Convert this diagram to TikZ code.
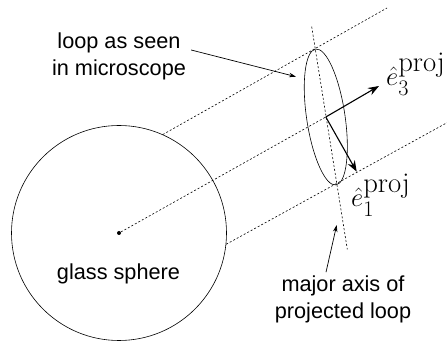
\documentclass[tikz,border=0pt]{standalone}
\usepackage{amsmath}
\usepackage{fontspec}
\setmainfont{Liberation Sans}
\usepackage{tikz}
\usetikzlibrary{shapes.geometric, arrows.meta}
\newfontfamily\mathlabelfont{Latin Modern Roman}
\newcommand{\projtext}{\mbox{\mathlabelfont\fontsize{26.8}{30}\selectfont proj}}

\tikzset{
  sightline/.style={dash pattern=on 2pt off 2pt, line width=0.6pt},
  basisarrow/.style={-{Stealth[length=11pt, width=8pt]}, line width=1.1pt},
  labelarrow/.style={-{Stealth[length=7pt, width=4.5pt]}, line width=0.7pt},
  sanslabel/.style={font=\fontsize{21.7}{27}\selectfont, align=center, inner sep=0pt},
  basislabel/.style={font=\Huge\mathlabelfont, scale=1.07, inner sep=0pt, anchor=base west}
}

\begin{document}
\begin{tikzpicture}[x=1pt, y=1pt]
\useasboundingbox (0,0) rectangle (447,345);

% Sphere and its centre
\node[draw, circle, line width=0.6pt, minimum size=215pt, inner sep=0pt] (sphere) at (119,112) {};
\node[fill, circle, minimum size=4pt, inner sep=0pt] (centre) at (119,112) {};
\node[sanslabel, anchor=base] (spherelabel) at (118.5,65) {glass sphere};

% Projected loop
\node[draw, ellipse, line width=0.6pt, minimum width=38.4pt, minimum height=137.4pt,
  inner sep=0pt, rotate=8.5] (loop) at (325.8,228) {};
\coordinate (origin) at (325.8,228);

% Free ends of the lines
\coordinate (topend) at (387,337);
\coordinate (bottomend) at (447,222.3);
\coordinate (axistop) at (311.7,318.3);
\coordinate (axisbottom) at (347.3,95.7);
\coordinate (e3tip) at (379,259);
\coordinate (e1tip) at (356.7,173.3);

% Lines of sight
\draw[sightline] (sphere.66) -- (topend);
\draw[sightline] (centre) -- (origin);
\draw[sightline] (sphere.-6.4) -- (bottomend);

% Major axis
\draw[sightline] (axistop) -- (axisbottom);

% Projected basis vectors
\draw[basisarrow] (origin) -- (e3tip);
\draw[basisarrow] (origin) -- (e1tip);
\node[basislabel] (e3label) at (386,259) {$\hat{e}_3^{\projtext}$};
\node[basislabel] (e1label) at (351,138) {$\hat{e}_1^{\projtext}$};

% Labels with pointers
\node[sanslabel] (looplabel) at (119,289) {loop as seen\\in microscope};
\node[sanslabel] (axislabel) at (343,46) {major axis of\\projected loop};
\coordinate (looptip) at (296,268.3);
\coordinate (axistip) at (336.7,120);
\draw[labelarrow] (looplabel.east)++(5,6) coordinate (loopstart) (loopstart) -- (looptip);
\draw[labelarrow] (axislabel.north)++(-17,3) coordinate (axisstart) (axisstart) -- (axistip);

\end{tikzpicture}
\end{document}
